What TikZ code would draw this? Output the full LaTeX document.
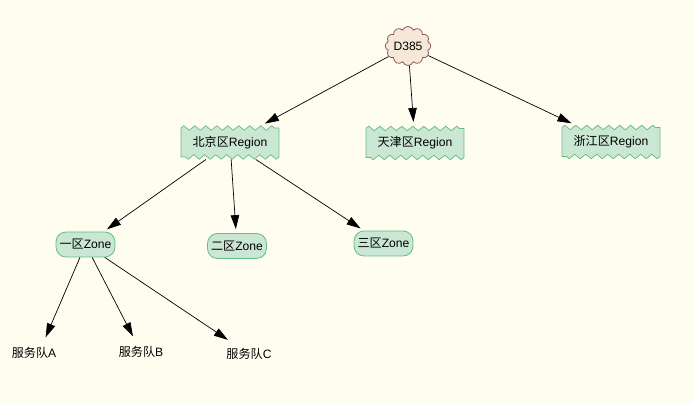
\documentclass[tikz,border=0pt]{standalone}
\usepackage{fontspec}
\setmainfont{Liberation Sans}
\newfontfamily\cjk{Noto Sans CJK SC}
\usetikzlibrary{positioning}
\usetikzlibrary{shapes.symbols}
\usetikzlibrary{arrows.meta}
\usetikzlibrary{backgrounds}
\usetikzlibrary{decorations.pathmorphing}
\definecolor{paper}{HTML}{FFFDF0}
\definecolor{cloudfill}{HTML}{F6E8D6}
\definecolor{cloudline}{HTML}{8A5A5E}
\definecolor{boxfill}{HTML}{CAE7D4}
\definecolor{boxline}{HTML}{63BC85}
\tikzset{
    every node/.style={font=\fontsize{6.9}{8}\selectfont},
    rootcloud/.style={cloud, cloud puffs=12, cloud puff arc=140, aspect=1.25, draw=cloudline, fill=cloudfill, line width=0.45pt, minimum width=0.9cm, minimum height=0.72cm, inner sep=0pt},
    regionbox/.style={minimum width=1.96cm, minimum height=0.58cm, inner sep=0pt, outer sep=0.05cm},
    wavyline/.style={draw=boxline, fill=boxfill, line width=0.4pt, decoration={zigzag, segment length=0.22cm, amplitude=0.045cm}},
    zonebox/.style={rectangle, rounded corners=0.2cm, draw=boxline, fill=boxfill, line width=0.45pt, minimum width=1.18cm, minimum height=0.5cm, inner sep=0pt},
    leaf/.style={inner sep=0.12cm},
    link/.style={-{Triangle[length=0.28cm, width=0.17cm]}, black, line width=0.4pt, shorten >=0.08cm}
}
\begin{document}
\begin{tikzpicture}[x=0.02cm, y=-0.02cm]
    \useasboundingbox (0,0) rectangle (693,404);

    % Root
    \node[rootcloud] (d385) at (408,46) {D385};

    % Regions
    \node[regionbox] (beijing) at (230,142.5) {{\cjk 北京区}Region};
    \node[regionbox] (tianjin) at (415,143) {{\cjk 天津区}Region};
    \node[regionbox] (zhejiang) at (611,142) {{\cjk 浙江区}Region};

    % Zones
    \node[zonebox] (zone1) at (85.5,244.5) {{\cjk 一区}Zone};
    \node[zonebox] (zone2) at (237,246) {{\cjk 二区}Zone};
    \node[zonebox] (zone3) at (383.5,243.5) {{\cjk 三区}Zone};

    % Service teams
    \node[leaf] (teamA) at (34,353) {{\cjk 服务队}A};
    \node[leaf] (teamB) at (141,352) {{\cjk 服务队}B};
    \node[leaf] (teamC) at (249,354) {{\cjk 服务队}C};

    % Wavy borders behind the text
    \begin{scope}[on background layer]
        \fill[paper] (0,0) rectangle (693,404);
        \foreach \n in {beijing,tianjin,zhejiang}
            \path[wavyline] decorate {([shift={(2.5,2.5)}]\n.north west) -- ([shift={(-2.5,2.5)}]\n.north east)} -- ([shift={(-2.5,-2.5)}]\n.south east) decorate {-- ([shift={(2.5,-2.5)}]\n.south west)} -- cycle;
    \end{scope}

    % Links
    \draw[link] (d385) -- (beijing);
    \draw[link] (d385) -- (tianjin);
    \draw[link] (d385) -- (zhejiang);
    \draw[link] (beijing) -- (zone1);
    \draw[link] (beijing) -- (zone2);
    \draw[link] (beijing) -- (zone3);
    \draw[link] (zone1) -- (teamA.50);
    \draw[link] (zone1) -- (teamB);
    \draw[link] (zone1) -- (teamC);
\end{tikzpicture}
\end{document}
